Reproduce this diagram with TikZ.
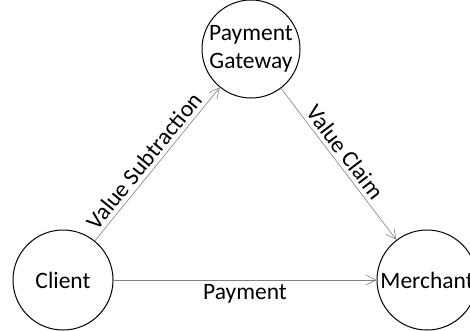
\documentclass[tikz,border=0pt]{standalone}
\usepackage{fontspec}
\setmainfont{Carlito}
\usetikzlibrary{arrows.meta}
\begin{document}
\begin{tikzpicture}[
		x=1pt, y=-1pt,
		party/.style={circle,draw,line width=1pt,minimum size=98pt,inner sep=0pt,align=center,font=\fontsize{23.5}{28}\selectfont},
		flow/.style={draw=gray,line width=0.6pt,-{Straight Barb[length=10pt,width=10pt]}},
		flowlabel/.style={font=\fontsize{23.5}{28}\selectfont,inner sep=4pt}
	]
	\useasboundingbox (0,0) rectangle (470,330);
	\node[party] (gateway) at (251,49) {Payment\\Gateway};
	\node[party,minimum size=100pt] (client) at (63,280) {Client};
	\node[party,minimum size=100pt] (merchant) at (427,280) {Merchant};
	\draw[flow] (client) -- node[flowlabel,sloped,above,pos=0.47] {Value Subtraction} (gateway);
	\draw[flow] (gateway) -- node[flowlabel,sloped,above,pos=0.47] {Value Claim} (merchant);
	\draw[flow] (client) -- node[flowlabel,below] {Payment} (merchant);
\end{tikzpicture}
\end{document}
